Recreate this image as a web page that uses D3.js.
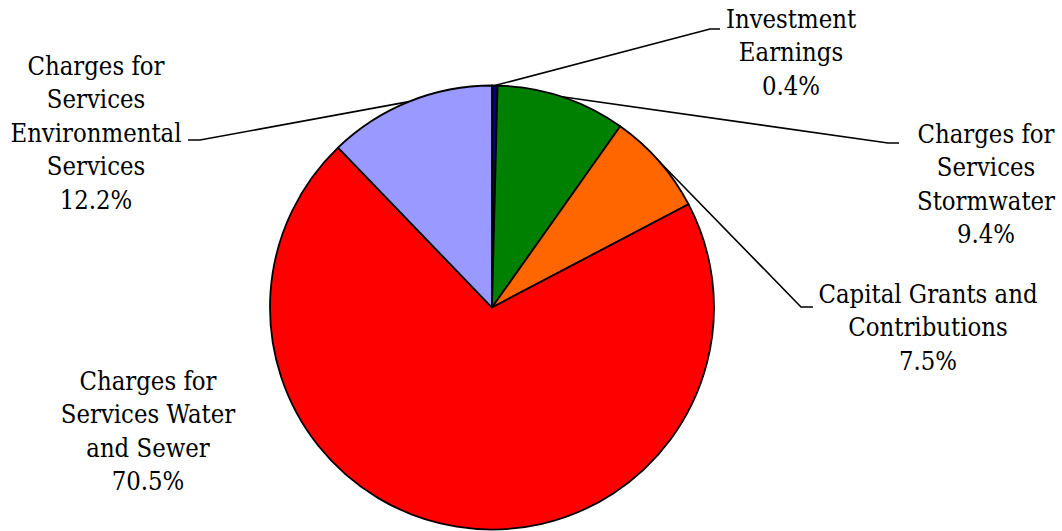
<!DOCTYPE html>
<html>
<head>
<meta charset="utf-8">
<script src="https://cdn.jsdelivr.net/npm/d3@7"></script>
<style>
html,body{margin:0;padding:0;background:#fff;}
svg{display:block;}
</style>
</head>
<body>
<svg id="chart" width="1062" height="531"></svg>
<script>
// ---- data ----
const categories = [
  "Investment Earnings",
  "Charges for Services Stormwater",
  "Capital Grants and Contributions",
  "Charges for Services Water and Sewer",
  "Charges for Services Environmental Services"
];
const values = [0.4, 9.4, 7.5, 70.5, 12.2];
const labelLines = [
  ["Investment", "Earnings", "0.4%"],
  ["Charges for", "Services", "Stormwater", "9.4%"],
  ["Capital Grants and", "Contributions", "7.5%"],
  ["Charges for", "Services Water", "and Sewer", "70.5%"],
  ["Charges for", "Services", "Environmental", "Services", "12.2%"]
];
const colors = ["#000080", "#008000", "#FF6600", "#FF0000", "#9999FF"];

// ---- layout ----
const cx = 492, cy = 307.5, R = 222;
const lineH = 33.4;
const fontFamily = "'DejaVu Serif', serif";
const fontSize = 26, hScale = 0.88;
// label block: center x, first baseline y, leader elbow (x,y), leader end x
const labelLayout = [
  {x: 791, y: 28,  elbow: [710, 29],  end: 720},
  {x: 986, y: 143, elbow: [888, 143], end: 899},
  {x: 928, y: 303, elbow: [801, 307], end: 813},
  {x: 148, y: 390, elbow: null,       end: null},
  {x: 96,  y: 75,  elbow: [200, 140], end: 188}
];

const svg = d3.select("#chart");
const g = svg.append("g").attr("transform", `translate(${cx},${cy})`);

const pie = d3.pie().sort(null).value(d => d.v)(values.map((v, i) => ({v, i})));
const arc = d3.arc().innerRadius(0).outerRadius(R);

g.selectAll("path.slice").data(pie).join("path")
  .attr("class", "slice")
  .attr("d", arc)
  .attr("fill", d => colors[d.data.i])
  .attr("stroke", "#000")
  .attr("stroke-width", 1.8)
  .attr("stroke-linejoin", "round");

// leader lines
pie.forEach(d => {
  const L = labelLayout[d.data.i];
  if (!L.elbow) return;
  const a = (d.startAngle + d.endAngle) / 2;
  const sx = cx + R * Math.sin(a), sy = cy - R * Math.cos(a);
  svg.append("polyline")
    .attr("points", `${sx},${sy} ${L.elbow[0]},${L.elbow[1]} ${L.end},${L.elbow[1]}`)
    .attr("fill", "none")
    .attr("stroke", "#000")
    .attr("stroke-width", 1.6);
});

// labels
labelLines.forEach((lines, i) => {
  const L = labelLayout[i];
  const t = svg.append("text")
    .attr("transform", `translate(${L.x},0) scale(${hScale},1)`)
    .attr("text-anchor", "middle")
    .attr("font-family", fontFamily)
    .attr("font-size", fontSize)
    .attr("fill", "#000");
  lines.forEach((s, k) => {
    t.append("tspan").attr("x", 0).attr("y", L.y + k * lineH).text(s);
  });
});
</script>
</body>
</html>
